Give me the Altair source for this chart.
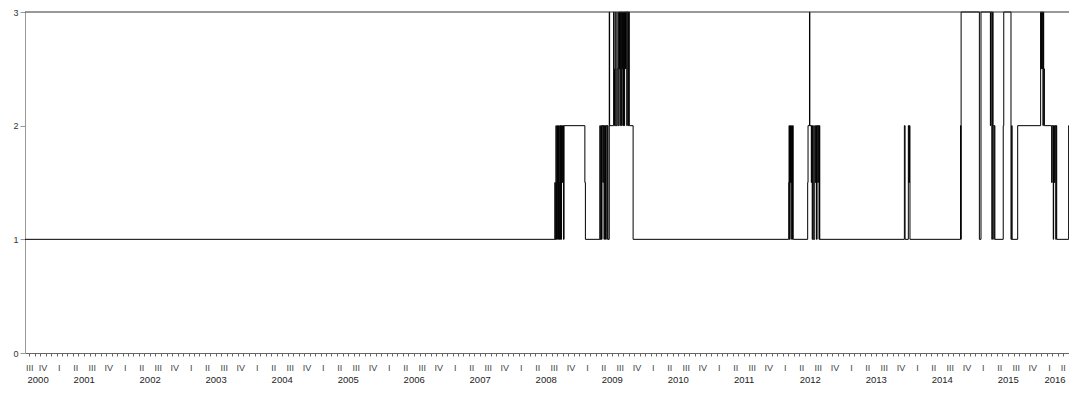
import altair as alt
import pandas as pd

# ---- data: dates at which the step series changes, and the new value ----
change_dates = [
    "2000-08-09",
    "2008-08-19", "2008-08-21", "2008-08-25", "2008-08-27", "2008-08-29", "2008-09-01",
    "2008-09-03", "2008-09-08", "2008-09-10", "2008-09-12", "2008-09-15", "2008-09-17",
    "2008-09-19", "2008-09-23", "2008-09-25", "2008-09-29", "2008-10-01", "2008-10-06",
    "2008-10-09", "2009-02-01", "2009-02-04",
    "2009-04-25", "2009-04-27", "2009-05-01", "2009-05-04", "2009-05-07", "2009-05-12",
    "2009-05-14", "2009-05-18", "2009-05-20", "2009-05-26", "2009-05-28", "2009-06-03",
    "2009-06-05", "2009-06-09", "2009-06-16", "2009-06-18", "2009-07-10", "2009-07-13",
    "2009-07-15", "2009-07-22", "2009-07-24", "2009-07-30", "2009-08-03", "2009-08-05",
    "2009-08-10", "2009-08-12", "2009-08-14", "2009-08-18", "2009-08-20", "2009-08-24",
    "2009-08-26", "2009-08-28", "2009-09-01", "2009-09-03", "2009-09-07", "2009-09-09",
    "2009-09-14", "2009-09-16", "2009-09-21", "2009-09-23", "2009-09-28", "2009-10-01",
    "2009-10-05", "2009-10-26",
    "2012-03-05", "2012-03-07", "2012-03-09", "2012-03-13", "2012-03-15", "2012-03-19",
    "2012-03-21", "2012-03-26", "2012-03-30",
    "2012-06-18", "2012-06-20", "2012-06-28", "2012-06-30", "2012-07-08", "2012-07-10",
    "2012-07-13", "2012-07-16", "2012-07-19", "2012-07-27", "2012-07-30", "2012-08-02",
    "2012-08-06", "2012-08-09", "2012-08-13", "2012-08-16", "2012-08-20", "2012-08-22",
    "2012-08-24",
    "2013-12-05", "2013-12-09", "2013-12-27", "2013-12-30", "2014-01-02", "2014-01-05",
    "2014-10-12", "2014-10-14", "2014-10-15", "2015-01-24", "2015-02-02", "2015-03-26",
    "2015-03-28", "2015-04-03", "2015-04-06", "2015-04-10", "2015-04-14", "2015-04-16",
    "2015-04-20", "2015-06-05", "2015-06-08", "2015-07-18", "2015-07-22", "2015-07-24",
    "2015-08-24", "2015-12-29", "2015-12-31", "2016-01-02", "2016-01-05", "2016-01-07",
    "2016-01-11", "2016-01-13", "2016-01-15", "2016-01-19", "2016-02-28", "2016-03-02",
    "2016-03-08", "2016-03-10", "2016-03-14", "2016-03-17", "2016-03-22", "2016-03-24",
    "2016-03-27", "2016-06-01", "2016-06-03",
]
change_values = [
    1,
    1.5, 1, 2, 1, 1.5, 2,
    1, 2, 1.5, 1, 2, 1,
    2, 1, 2, 1.5, 2, 1,
    2, 1.5, 1,
    2, 1, 2, 1, 2, 1.5,
    2, 1, 2, 1, 2, 1,
    2, 1, 3, 2, 3, 2.5,
    2, 3, 2, 2.5, 3, 2,
    3, 2.5, 3, 2, 3, 2,
    3, 2.5, 2, 3, 2, 3,
    2.5, 3, 2, 3, 2, 3,
    2, 1,
    1.5, 2, 1, 2, 1.5, 2,
    1, 2, 1,
    1.5, 2, 3, 2, 1.5, 2,
    1, 2, 1, 2, 1.5, 2,
    1, 2, 1.5, 2, 1, 2,
    1,
    2, 1, 2, 1.5, 2, 1,
    2, 1, 3, 1, 3, 2,
    3, 1, 3, 2, 1, 2,
    1, 2, 3, 1, 2, 1,
    2, 3, 2.5, 3, 2.5, 3,
    2, 3, 2.5, 2, 1.5, 2,
    1, 2, 1.5, 2, 1, 2,
    1, 2, 2,
]

y_ticks = [0, 1, 2, 3]
quarter_names = ["I", "II", "III", "IV"]
axis_start = "2000-08-09"
axis_end = "2016-06-03"

# ---- helpers for axis annotation positions ----
t0 = pd.Timestamp(axis_start)
t1 = pd.Timestamp(axis_end)


def ms(t):
    return int(pd.Timestamp(t).value // 10**6)


def mid(a, b):
    a = max(a, t0)
    b = min(b, t1)
    return (a + (b - a) / 2).strftime("%Y-%m-%dT%H:%M:%SZ")


df = pd.DataFrame({"date": change_dates, "value": change_values})

month_ticks = [ms(d) for d in pd.date_range("2000-09-01", axis_end, freq="MS")]

q_rows = []
y_rows = []
for yr in range(2000, 2017):
    ys, ye = pd.Timestamp(f"{yr}-01-01"), pd.Timestamp(f"{yr + 1}-01-01")
    if ye > t0 and ys < t1:
        y_rows.append({"date": mid(ys, ye), "label": str(yr)})
    for qi, qn in enumerate(quarter_names):
        qs = pd.Timestamp(year=yr, month=3 * qi + 1, day=1)
        qe = qs + pd.DateOffset(months=3)
        if qe > t0 and qs < t1:
            q_rows.append({"date": mid(qs, qe), "label": qn})
qdf = pd.DataFrame(q_rows)
ydf = pd.DataFrame(y_rows)

xscale = alt.Scale(type="utc", domain=[ms(t0), ms(t1)], nice=False)
yscale = alt.Scale(domain=[0, 3], nice=False)
xaxis = alt.Axis(values=month_ticks, labels=False, tickSize=3, title=None, grid=False,
                 domainColor="#666666", tickColor="#666666", domainWidth=1, tickWidth=1)

line = alt.Chart(df).mark_line(interpolate="step-after", color="#000000", strokeWidth=1).encode(
    x=alt.X("date:T", scale=xscale, axis=xaxis),
    y=alt.Y("value:Q", scale=yscale,
            axis=alt.Axis(values=y_ticks, format="d", tickSize=5, labelPadding=2, title=None,
                          grid=False, labelFontSize=9, labelColor="#333333",
                          labelFont="Liberation Sans",
                          domainColor="#999999", tickColor="#999999")),
)

top = alt.Chart(pd.DataFrame({"v": [3]})).mark_rule(color="#333333", strokeWidth=1).encode(
    y=alt.Y("v:Q", scale=yscale)
)

qtext = alt.Chart(qdf).mark_text(fontSize=9, font="Liberation Sans", color="#444444",
                                 baseline="middle").encode(
    x=alt.X("date:T", scale=xscale, axis=xaxis),
    y=alt.value(356),
    text="label:N",
)

ytext = alt.Chart(ydf).mark_text(fontSize=9.5, font="Liberation Sans", color="#222222",
                                 baseline="middle").encode(
    x=alt.X("date:T", scale=xscale, axis=xaxis),
    y=alt.value(368),
    text="label:N",
)

chart = alt.layer(line, top, qtext, ytext).properties(
    width=1044,
    height=341,
    padding={"left": 17, "top": 4, "right": 0, "bottom": 33},
    autosize=alt.AutoSizeParams(type="none"),
).configure_view(stroke=None)

chart.save("out.html", embed_options={"renderer": "svg", "actions": False})
